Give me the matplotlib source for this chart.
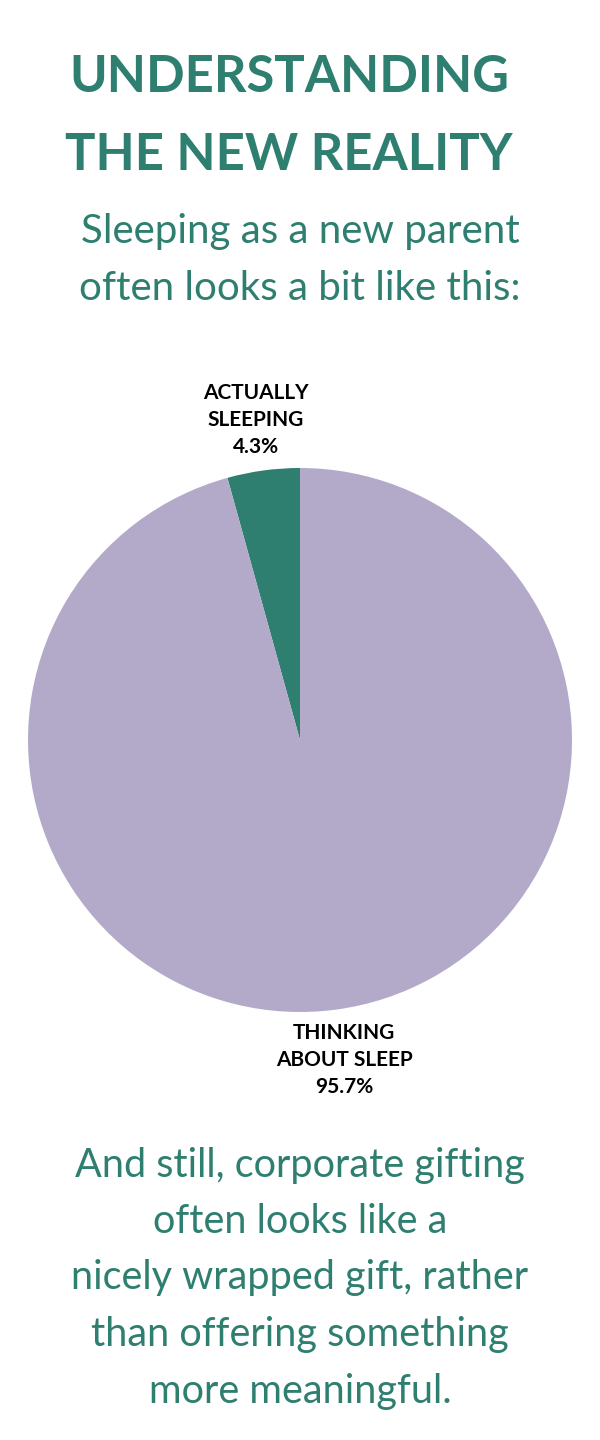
import matplotlib
matplotlib.use('Agg')
import matplotlib.pyplot as plt

# data
labels = ['ACTUALLY\nSLEEPING', 'THINKING\nABOUT SLEEP']
shares = [4.3, 95.7]
colors = ['#2e7f70', '#b3aac9']

title = ['UNDERSTANDING', 'THE NEW REALITY']
subtitle = ['Sleeping as a new parent', 'often looks a bit like this:']
footer = ['And still, corporate gifting', 'often looks like a',
          'nicely wrapped gift, rather', 'than offering something',
          'more meaningful.']

green = '#2e7f70'
W, H = 600, 1440

fig = plt.figure(figsize=(6, 14.4), dpi=100)
fig.patch.set_facecolor('white')

def fy(py):
    return 1 - py / H

# title
for i, line in enumerate(title):
    fig.text(0.482, fy(78 + i * 77), line, ha='center', va='center',
             fontsize=36.5, fontweight='bold', color=green, family='Lato')

# subtitle
for i, line in enumerate(subtitle):
    fig.text(0.5, fy(232 + i * 56), line, ha='center', va='center',
             fontsize=29, color=green, family='Lato')

# pie
r = 272
ax = fig.add_axes([(300 - r) / W, (H - 740 - r) / H, 2 * r / W, 2 * r / H])
ax.pie(shares, colors=colors, startangle=90, counterclock=True,
       wedgeprops=dict(linewidth=0))
ax.set_aspect('auto')
ax.set_xlim(-1, 1)
ax.set_ylim(-1, 1)
ax.axis('off')

# slice labels
fig.text(256 / W, fy(420), labels[0] + '\n%.1f%%' % shares[0], ha='center',
         va='center', fontsize=15, fontweight='bold', color='black',
         family='Lato', linespacing=1.45)
fig.text(344 / W, fy(1060), labels[1] + '\n%.1f%%' % shares[1], ha='center',
         va='center', fontsize=15, fontweight='bold', color='black',
         family='Lato', linespacing=1.45)

# footer
for i, line in enumerate(footer):
    fig.text(0.5, fy(1165 + i * 56.5), line, ha='center', va='center',
             fontsize=28.5, color=green, family='Lato')

fig.savefig('out.png', dpi=100, facecolor='white')
